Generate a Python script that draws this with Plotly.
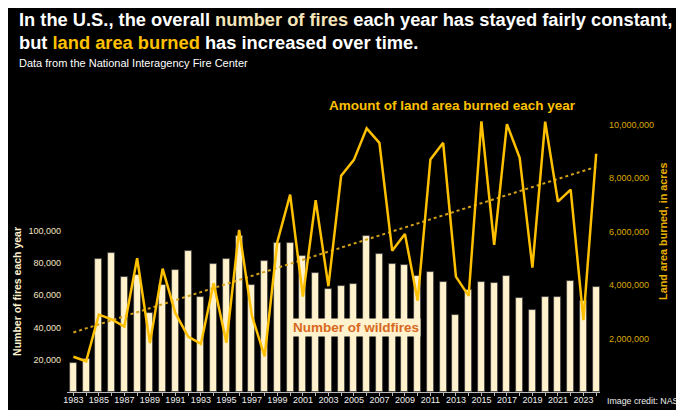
import plotly.graph_objects as go

# values
years = list(range(1983, 2025))
fires = [18200, 20500, 82600, 85900, 71300, 72700, 48900, 66500, 75800, 87400,
         58800, 79100, 82200, 96400, 66200, 81000, 92500, 92200, 84100, 73500,
         63600, 65500, 66800, 96400, 85700, 79000, 78800, 72000, 74100, 67800,
         47600, 63300, 68200, 67700, 71500, 58100, 50500, 59000, 59000, 69000,
         56600, 64900]
acres = [1320000, 1150000, 2900000, 2720000, 2450000, 5010000, 1830000, 4620000,
         2950000, 2070000, 1800000, 4070000, 1840000, 6070000, 2860000, 1330000,
         5630000, 7390000, 3570000, 7180000, 3960000, 8100000, 8690000, 9870000,
         9330000, 5290000, 5920000, 3420000, 8710000, 9330000, 4320000, 3600000,
         10130000, 5510000, 10030000, 8770000, 4660000, 10120000, 7130000, 7580000,
         2690000, 8920000]
trend_years = [1983, 2024]
trend_acres = [2230000, 8430000]

left_ticks = [20000, 40000, 60000, 80000, 100000]
right_ticks = [2000000, 4000000, 6000000, 8000000, 10000000]
x_ticks = list(range(1983, 2024, 2))

CREAM = "#FFF2CC"
BEIGE = "#F6E5B8"
GOLD = "#FFC000"
FONT = "Liberation Sans, Arial, sans-serif"

fig = go.Figure()

#  fires per year (bars)
fig.add_trace(go.Bar(x=years, y=fires, width=0.55, marker=dict(color=CREAM, line=dict(color="#3a3a3a", width=0.8)),
                     showlegend=False, yaxis="y"))

#  trend of area burned
fig.add_trace(go.Scatter(x=trend_years, y=trend_acres, mode="lines", line=dict(color="#d4a017", width=2, dash="dot"),
                         showlegend=False, yaxis="y2"))

#  area burned
fig.add_trace(go.Scatter(x=years, y=acres, mode="lines", line=dict(color=GOLD, width=2.5),
                         showlegend=False, yaxis="y2"))

# page body adds an 8px offset, so the figure is 8px smaller and shifted
fig.update_layout(
    width=676, height=402,
    margin=dict(l=59, r=84, t=87, b=18),
    paper_bgcolor="black", plot_bgcolor="black",
    font=dict(family=FONT, color="white"),
    bargap=0,
    xaxis=dict(range=[1982.5, 2024.3], tickvals=x_ticks, ticks="outside", ticklen=3, tickcolor="#bbbbbb",
               showline=True, linecolor="#bbbbbb", linewidth=1, showgrid=False, zeroline=False, automargin=False,
               tickfont=dict(size=9, color="#eeeeee"), ticklabelstandoff=-4,
               minor=dict(dtick=1, tick0=1983, ticks="outside", ticklen=3, tickcolor="#bbbbbb")),
    yaxis=dict(range=[0, 183800], tickvals=left_ticks, tickformat=",d", showgrid=False, zeroline=False,
               showline=False, ticks="", ticklabelstandoff=5, automargin=False,
               tickfont=dict(size=9, color="#f3e6c2")),
    yaxis2=dict(range=[0, 11120000], overlaying="y", side="right", tickvals=right_ticks, tickformat=",d",
                showgrid=False, zeroline=False, showline=False, ticks="", ticklabelstandoff=8, automargin=False,
                tickfont=dict(size=9, color="#dba800")),
)

#  title lines
fig.add_annotation(xref="paper", yref="paper", x=-0.093, y=1.254, xanchor="left", yanchor="middle", showarrow=False,
                   text=f"<b>In the U.S., the overall <span style='color:{BEIGE}'>number of fires</span> each year has stayed fairly constant,</b>",
                   font=dict(size=18.3, color="white"))
fig.add_annotation(xref="paper", yref="paper", x=-0.093, y=1.178, xanchor="left", yanchor="middle", showarrow=False,
                   text=f"<b>but <span style='color:{GOLD}'>land area burned</span> has increased over time.</b>",
                   font=dict(size=18.3, color="white"))
fig.add_annotation(xref="paper", yref="paper", x=-0.093, y=1.108, xanchor="left", yanchor="middle", showarrow=False,
                   text="Data from the National Interagency Fire Center", font=dict(size=11, color="white"))

#  series labels
fig.add_annotation(xref="paper", yref="paper", x=0.724, y=0.963, xanchor="center", yanchor="middle", showarrow=False,
                   text="<b>Amount of land area burned each year</b>", font=dict(size=13.5, color=GOLD))
fig.add_annotation(xref="paper", yref="paper", x=0.543, y=0.2165, xanchor="center", yanchor="middle", showarrow=False,
                   bgcolor=CREAM, borderpad=1,
                   text="<b>Number of wildfires</b>", font=dict(size=13.5, color="#d8691e"))

#  axis titles
fig.add_annotation(xref="paper", yref="paper", x=-0.094, y=0.34, xanchor="center", yanchor="middle", showarrow=False,
                   textangle=-90, text="<b>Number of fires each year</b>", font=dict(size=10.5, color=CREAM))
fig.add_annotation(xref="paper", yref="paper", x=1.118, y=0.542, xanchor="center", yanchor="middle", showarrow=False,
                   textangle=-90, text="<b>Land area burned, in acres</b>", font=dict(size=10.8, color="#e8ae00"))

fig.add_annotation(xref="paper", yref="paper", x=1.0095, y=-0.029, xanchor="left", yanchor="middle", showarrow=False,
                   text="Image credit: NASA", font=dict(size=8.8, color="#eeeeee"))

fig.write_html("out.html")
